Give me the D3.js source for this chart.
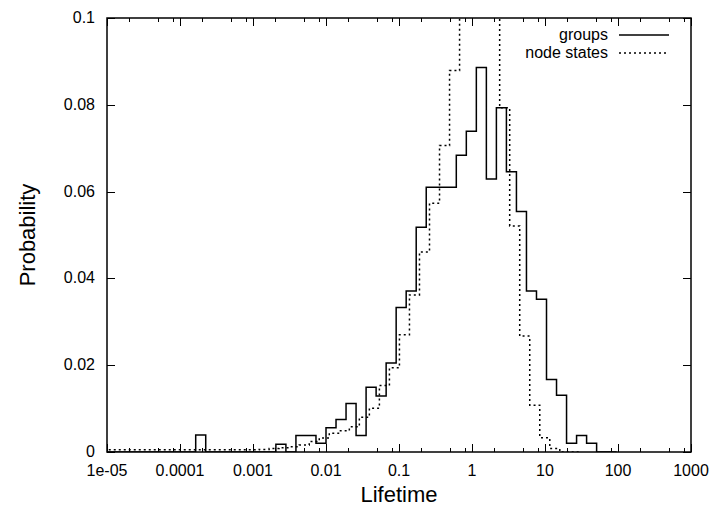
<!DOCTYPE html>
<html>
<head>
<meta charset="utf-8">
<script src="https://cdn.jsdelivr.net/npm/d3@7"></script>
<style>
  body { margin: 0; background: #fff; }
  svg text { font-family: "Liberation Sans", Arial, Helvetica, sans-serif; fill: #000; }
</style>
</head>
<body>
<svg id="chart" width="715" height="509"></svg>
<script>

// histogram bins: log10 of the first left edge and log10 bin width
const bin_width = 0.1373;
const groups_first_edge = -5.0206;
const nodes_first_edge = -5.113;

// probabilities per bin
const groups_prob = [
	0, 0, 0, 0, 0, 0, 0, 0, 0,
	0.0039,
	0, 0, 0, 0, 0, 0, 0,
	0.0018, 0, 0.0038, 0.0038, 0.0020,
	0.0056, 0.0075, 0.0112, 0.0038, 0.0149, 0.0129, 0.0205, 0.0333, 0.0371, 0.0518,
	0.061, 0.061, 0.061, 0.0684, 0.0739, 0.0886, 0.0629, 0.0793, 0.0646, 0.0554,
	0.0371, 0.0352, 0.0167, 0.0131, 0.0020, 0.0038, 0.0020, 0, 0
];

const nodes_prob = [
	0.0005, 0.0005, 0.0005, 0.0005, 0.0005, 0.0005, 0.0005, 0.0005,
	0.0005, 0.0005, 0.0005, 0.0005, 0.0005, 0.0005, 0.0005, 0.0005,
	0.0006, 0.0008, 0.0010, 0.0012, 0.0016, 0.0024, 0.0032,
	0.0043, 0.0049, 0.0058, 0.0080, 0.0101, 0.0153, 0.0194, 0.0270, 0.0362, 0.0461,
	0.0573, 0.0706, 0.0879, 0.104, 0.118, 0.112, 0.103, 0.0793, 0.0521,
	0.0267, 0.0108, 0.0033, 0.0008, 0, 0
];

const x_ticks = [1e-5, 1e-4, 1e-3, 1e-2, 1e-1, 1, 10, 100, 1000];
const x_labels = ['1e-05', '0.0001', '0.001', '0.01', '0.1', '1', '10', '100', '1000'];
const x_minor = [2, 5, 8];
const y_ticks = [0, 0.02, 0.04, 0.06, 0.08, 0.1];
const y_labels = ['0', '0.02', '0.04', '0.06', '0.08', '0.1'];

const series = [
	{name: 'groups', first: groups_first_edge, prob: groups_prob, dash: null},
	{name: 'node states', first: nodes_first_edge, prob: nodes_prob, dash: '2,3'}
];

const margin = {left: 107, right: 24, top: 18, bottom: 57};
const width = 715, height = 509;
const plot_width = width - margin.left - margin.right;
const plot_height = height - margin.top - margin.bottom;

const svg = d3.select('#chart');

const x = d3.scaleLog().domain([1e-5, 1000]).range([margin.left, margin.left + plot_width]);
const y = d3.scaleLinear().domain([0, 0.1]).range([margin.top + plot_height, margin.top]);

svg.append('defs').append('clipPath')
		.attr('id', 'plot-clip')
	.append('rect')
		.attr('x', margin.left)
		.attr('y', margin.top)
		.attr('width', plot_width)
		.attr('height', plot_height);

// turn bin probabilities into step points (left edges + closing edge)
const to_steps = function(s){
	const pts = s.prob.map((p, i) => [Math.pow(10, s.first + i*bin_width), p]);
	const n = s.prob.length;
	pts.push([Math.pow(10, s.first + n*bin_width), s.prob[n-1]]);
	return pts;
};

const step_line = d3.line()
	.x(d => x(d[0]))
	.y(d => y(d[1]))
	.curve(d3.curveStepAfter);

const lines = svg.append('g').attr('clip-path', 'url(#plot-clip)');
series.forEach(function(s){
	lines.append('path')
		.attr('d', step_line(to_steps(s)))
		.attr('fill', 'none')
		.attr('stroke', '#000')
		.attr('stroke-width', 1.5)
		.attr('stroke-dasharray', s.dash);
});

// ticks (inward, mirrored like gnuplot)
const p_bottom = margin.top + plot_height, p_top = margin.top;
const p_left = margin.left, p_right = margin.left + plot_width;
const ticks = svg.append('g').attr('stroke', '#000').attr('stroke-width', 1);

var minor_vals = [];
x_ticks.slice(0, -1).forEach(t => x_minor.forEach(m => minor_vals.push(t*m)));

x_ticks.forEach(function(t){
	const px = Math.round(x(t)) + 0.5;
	ticks.append('line').attr('x1', px).attr('x2', px).attr('y1', p_bottom).attr('y2', p_bottom - 8);
	ticks.append('line').attr('x1', px).attr('x2', px).attr('y1', p_top).attr('y2', p_top + 8);
});
minor_vals.forEach(function(t){
	const px = Math.round(x(t)) + 0.5;
	ticks.append('line').attr('x1', px).attr('x2', px).attr('y1', p_bottom).attr('y2', p_bottom - 4);
	ticks.append('line').attr('x1', px).attr('x2', px).attr('y1', p_top).attr('y2', p_top + 4);
});
y_ticks.forEach(function(t){
	const py = Math.round(y(t)) + 0.5;
	ticks.append('line').attr('x1', p_left).attr('x2', p_left + 8).attr('y1', py).attr('y2', py);
	ticks.append('line').attr('x1', p_right).attr('x2', p_right - 8).attr('y1', py).attr('y2', py);
});

svg.append('rect')
	.attr('x', p_left)
	.attr('y', p_top)
	.attr('width', plot_width)
	.attr('height', plot_height)
	.attr('fill', 'none')
	.attr('stroke', '#000')
	.attr('stroke-width', 1.5);

// tick labels
svg.append('g').selectAll('text')
		.data(x_ticks)
		.enter()
	.append('text')
		.attr('x', d => x(d))
		.attr('y', 476)
		.attr('text-anchor', 'middle')
		.style('font-size', '16px')
		.text((d, i) => x_labels[i]);

svg.append('g').selectAll('text')
		.data(y_ticks)
		.enter()
	.append('text')
		.attr('x', 95)
		.attr('y', d => y(d) + 5)
		.attr('text-anchor', 'end')
		.style('font-size', '16px')
		.text((d, i) => y_labels[i]);

// axis titles
svg.append('text')
	.attr('x', p_left + plot_width/2)
	.attr('y', 502)
	.attr('text-anchor', 'middle')
	.style('font-size', '22px')
	.text('Lifetime');

svg.append('text')
	.attr('transform', `translate(35,${p_top + plot_height/2}) rotate(-90)`)
	.attr('text-anchor', 'middle')
	.style('font-size', '22px')
	.text('Probability');

// legend
const legend = svg.append('g');
series.forEach(function(s, i){
	const ly = 35 + i*18;
	legend.append('text')
		.attr('x', 608)
		.attr('y', ly + 5)
		.attr('text-anchor', 'end')
		.style('font-size', '16px')
		.text(s.name);
	legend.append('line')
		.attr('x1', 619).attr('x2', 669)
		.attr('y1', ly).attr('y2', ly)
		.attr('stroke', '#000')
		.attr('stroke-width', 1.5)
		.attr('stroke-dasharray', s.dash);
});

</script>
</body>
</html>
